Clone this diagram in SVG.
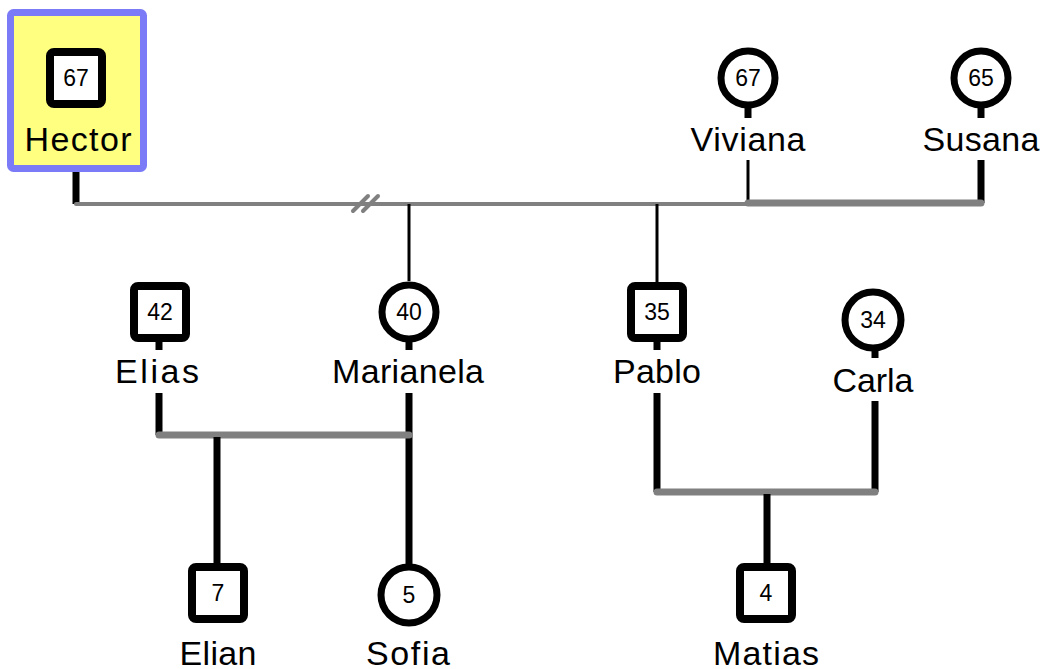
<svg xmlns="http://www.w3.org/2000/svg" width="1043" height="669" viewBox="0 0 1043 669">
<style>
.bg{fill:#ffffff}
.sq{fill:#ffffff;stroke:#000;stroke-width:8}
.ci{fill:#ffffff;stroke:#000;stroke-width:7}
.num{font-family:"Liberation Sans",Arial,sans-serif;font-size:23px;fill:#000;text-anchor:middle}
.name{font-family:"Liberation Sans",Arial,sans-serif;font-size:34px;fill:#000;text-anchor:middle}
.thick{stroke:#000;stroke-width:7;fill:none}
.thin{stroke:#000;stroke-width:3;fill:none}
.main{stroke:#808080;stroke-width:4;fill:none;stroke-linecap:round}
.couple{stroke:#808080;stroke-width:7;fill:none;stroke-linecap:round}
.slash{stroke:#808080;stroke-width:4;fill:none;stroke-linecap:round}
</style>
<rect class="bg" x="0" y="0" width="1043" height="669"/>
<g id="connectors">
  <line class="thick" x1="76" y1="172" x2="76" y2="204"/>
  <line class="main" x1="76" y1="204" x2="748" y2="204"/>
  <line class="slash" x1="353" y1="211" x2="368" y2="196"/>
  <line class="slash" x1="363" y1="211" x2="378" y2="196"/>
  <line class="thin" x1="748" y1="160" x2="748" y2="203"/>
  <line class="thick" x1="981" y1="160" x2="981" y2="203"/>
  <line class="couple" x1="748" y1="203" x2="981" y2="203"/>
  <line class="thin" x1="409" y1="204" x2="409" y2="281"/>
  <line class="thin" x1="657" y1="204" x2="657" y2="283"/>
  <line class="thick" x1="159" y1="393" x2="159" y2="435"/>
  <line class="thick" x1="409" y1="393" x2="409" y2="564"/>
  <line class="couple" x1="159" y1="435" x2="409" y2="435"/>
  <line class="thick" x1="217" y1="437" x2="217" y2="564"/>
  <line class="thick" x1="657" y1="393" x2="657" y2="492"/>
  <line class="thick" x1="875" y1="401" x2="875" y2="492"/>
  <line class="couple" x1="657" y1="492" x2="875" y2="492"/>
  <line class="thick" x1="767" y1="494" x2="767" y2="564"/>
  <line class="thick" x1="159" y1="340" x2="159" y2="350"/>
  <line class="thick" x1="409" y1="342" x2="409" y2="350"/>
  <line class="thick" x1="657" y1="340" x2="657" y2="350"/>
  <line class="thick" x1="875" y1="350" x2="875" y2="358"/>
  <line class="thick" x1="748" y1="108" x2="748" y2="118"/>
  <line class="thick" x1="981" y1="108" x2="981" y2="118"/>
</g>
<g id="hector">
  <rect x="10.5" y="12.5" width="133" height="156" rx="3" fill="#ffff80" stroke="#7b7bf7" stroke-width="7"/>
  <rect class="sq" x="50" y="52" width="52" height="52" rx="4"/>
  <text class="num" x="76" y="86">67</text>
  <text class="name" x="78" y="151" textLength="107" lengthAdjust="spacing">Hector</text>
</g>
<g id="viviana">
  <circle class="ci" cx="748" cy="78" r="27"/>
  <text class="num" x="748" y="86">67</text>
  <text class="name" x="748" y="151" textLength="115" lengthAdjust="spacing">Viviana</text>
</g>
<g id="susana">
  <circle class="ci" cx="981" cy="78" r="27"/>
  <text class="num" x="981" y="86">65</text>
  <text class="name" x="981" y="151" textLength="117" lengthAdjust="spacing">Susana</text>
</g>
<g id="elias">
  <rect class="sq" x="134" y="286" width="52" height="52" rx="4"/>
  <text class="num" x="160" y="320">42</text>
  <text class="name" x="157" y="383" textLength="84" lengthAdjust="spacing">Elias</text>
</g>
<g id="marianela">
  <circle class="ci" cx="409" cy="312" r="27"/>
  <text class="num" x="409" y="320">40</text>
  <text class="name" x="408" y="383" textLength="152" lengthAdjust="spacing">Marianela</text>
</g>
<g id="pablo">
  <rect class="sq" x="631" y="286" width="52" height="52" rx="4"/>
  <text class="num" x="657" y="320">35</text>
  <text class="name" x="657" y="383" textLength="88" lengthAdjust="spacing">Pablo</text>
</g>
<g id="carla">
  <circle class="ci" cx="873" cy="320" r="28"/>
  <text class="num" x="873" y="328">34</text>
  <text class="name" x="873" y="392" textLength="81" lengthAdjust="spacing">Carla</text>
</g>
<g id="elian">
  <rect class="sq" x="192" y="567" width="52" height="52" rx="4"/>
  <text class="num" x="218" y="601">7</text>
  <text class="name" x="218" y="665" textLength="77" lengthAdjust="spacing">Elian</text>
</g>
<g id="sofia">
  <circle class="ci" cx="409" cy="595" r="28"/>
  <text class="num" x="409" y="603">5</text>
  <text class="name" x="408" y="665" textLength="84" lengthAdjust="spacing">Sofia</text>
</g>
<g id="matias">
  <rect class="sq" x="740" y="567" width="52" height="52" rx="4"/>
  <text class="num" x="766" y="601">4</text>
  <text class="name" x="766" y="665" textLength="106" lengthAdjust="spacing">Matias</text>
</g>
</svg>
